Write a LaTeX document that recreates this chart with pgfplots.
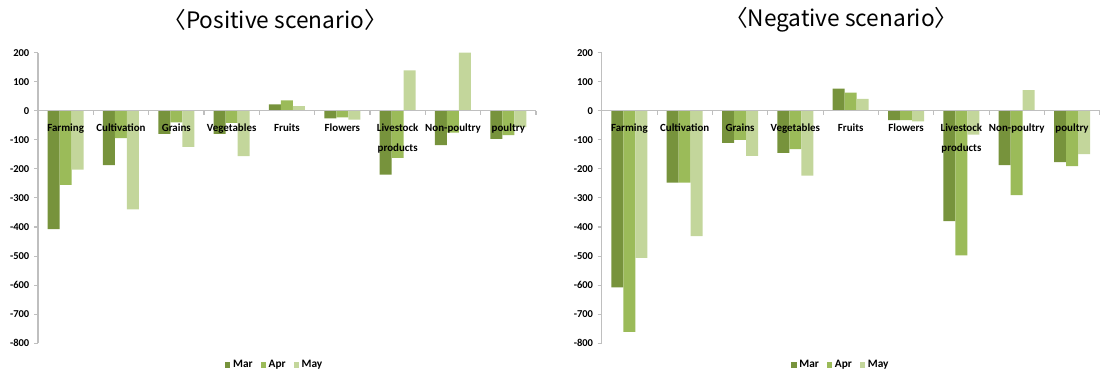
\documentclass[border=0pt]{standalone}
\usepackage{pgfplots}
\pgfplotsset{compat=1.18}
\usepackage{fontspec}
\setmainfont{Carlito}
\newfontfamily\titlefont{Noto Sans CJK KR}
\definecolor{cMar}{HTML}{77933C}
\definecolor{cApr}{HTML}{9BBB59}
\definecolor{cMay}{HTML}{C3D69B}
\definecolor{axgray}{HTML}{BFBFBF}
\pgfplotsset{
  myaxis/.style={
    scale only axis, width=373.5pt, height=218pt,
    anchor=south west,
    xmin=-0.5, xmax=8.5, ymin=-800, ymax=200,
    axis y line*=left, axis x line*=middle,
    axis line style={axgray, line width=0.8pt},
    ytick={-800,-700,-600,-500,-400,-300,-200,-100,0,100,200},
    yticklabels={-800,-700,-600,-500,-400,-300,-200,-100,0,100,200},
    yticklabel style={font=\bfseries\fontsize{7.9}{9}\selectfont},
    xtick={0,...,8},
    xticklabels={Farming,Cultivation,Grains,Vegetables,Fruits,Flowers,{Livestock\\products},Non-poultry,poultry},
    xticklabel style={align=center, font=\bfseries\fontsize{8.2}{15}\selectfont, anchor=north, yshift=-3.5pt},
    major x tick style={draw=none},
    minor xtick={-0.5,0.5,...,8.5},
    minor x tick style={axgray, line width=0.8pt},
    y tick style={axgray, line width=0.8pt},
    tick align=outside, major tick length=3pt, minor tick length=3pt,
    ybar=0pt, bar width=9pt,
    clip=false, axis on top,
    legend columns=3,
    legend style={draw=none, fill=none, font=\bfseries\fontsize{8.5}{9}\selectfont,
      /tikz/every even column/.append style={column sep=4pt}},
    legend image code/.code={\fill[##1] (0pt,-2.2pt) rectangle (4pt,2.2pt);},
  }
}
\begin{document}
\begin{tikzpicture}
\path[use as bounding box] (0,0) rectangle (831pt,281.25pt);
\begin{axis}[myaxis, at={(28.5pt,23.8pt)},
  legend style={at={(0.476,-0.075)}, anchor=center}]
\addplot[fill=cMar, draw=none] coordinates {(0,-407) (1,-187) (2,-80) (3,-80) (4,22) (5,-26) (6,-220) (7,-118) (8,-97)};
\addplot[fill=cApr, draw=none] coordinates {(0,-255) (1,-94) (2,-40) (3,-42) (4,36) (5,-23) (6,-162) (7,-75) (8,-84)};
\addplot[fill=cMay, draw=none] coordinates {(0,-203) (1,-339) (2,-124) (3,-156) (4,16) (5,-31) (6,139) (7,200) (8,-56)};
\legend{Mar,Apr,May}
\node[font=\titlefont\fontsize{17}{20}\selectfont] at (rel axis cs:0.476,1.1125) {〈Positive scenario〉};
\end{axis}
\begin{axis}[myaxis, at={(451.3pt,23.8pt)},
  legend style={at={(0.481,-0.075)}, anchor=center}]
\addplot[fill=cMar, draw=none] coordinates {(0,-608) (1,-247) (2,-111) (3,-145) (4,76) (5,-32) (6,-380) (7,-187) (8,-177)};
\addplot[fill=cApr, draw=none] coordinates {(0,-761) (1,-247) (2,-100) (3,-132) (4,62) (5,-32) (6,-498) (7,-290) (8,-191)};
\addplot[fill=cMay, draw=none] coordinates {(0,-506) (1,-431) (2,-155) (3,-223) (4,41) (5,-37) (6,-82) (7,71) (8,-149)};
\legend{Mar,Apr,May}
\node[font=\titlefont\fontsize{17}{20}\selectfont] at (rel axis cs:0.481,1.1125) {〈Negative scenario〉};
\end{axis}
\end{tikzpicture}
\end{document}
